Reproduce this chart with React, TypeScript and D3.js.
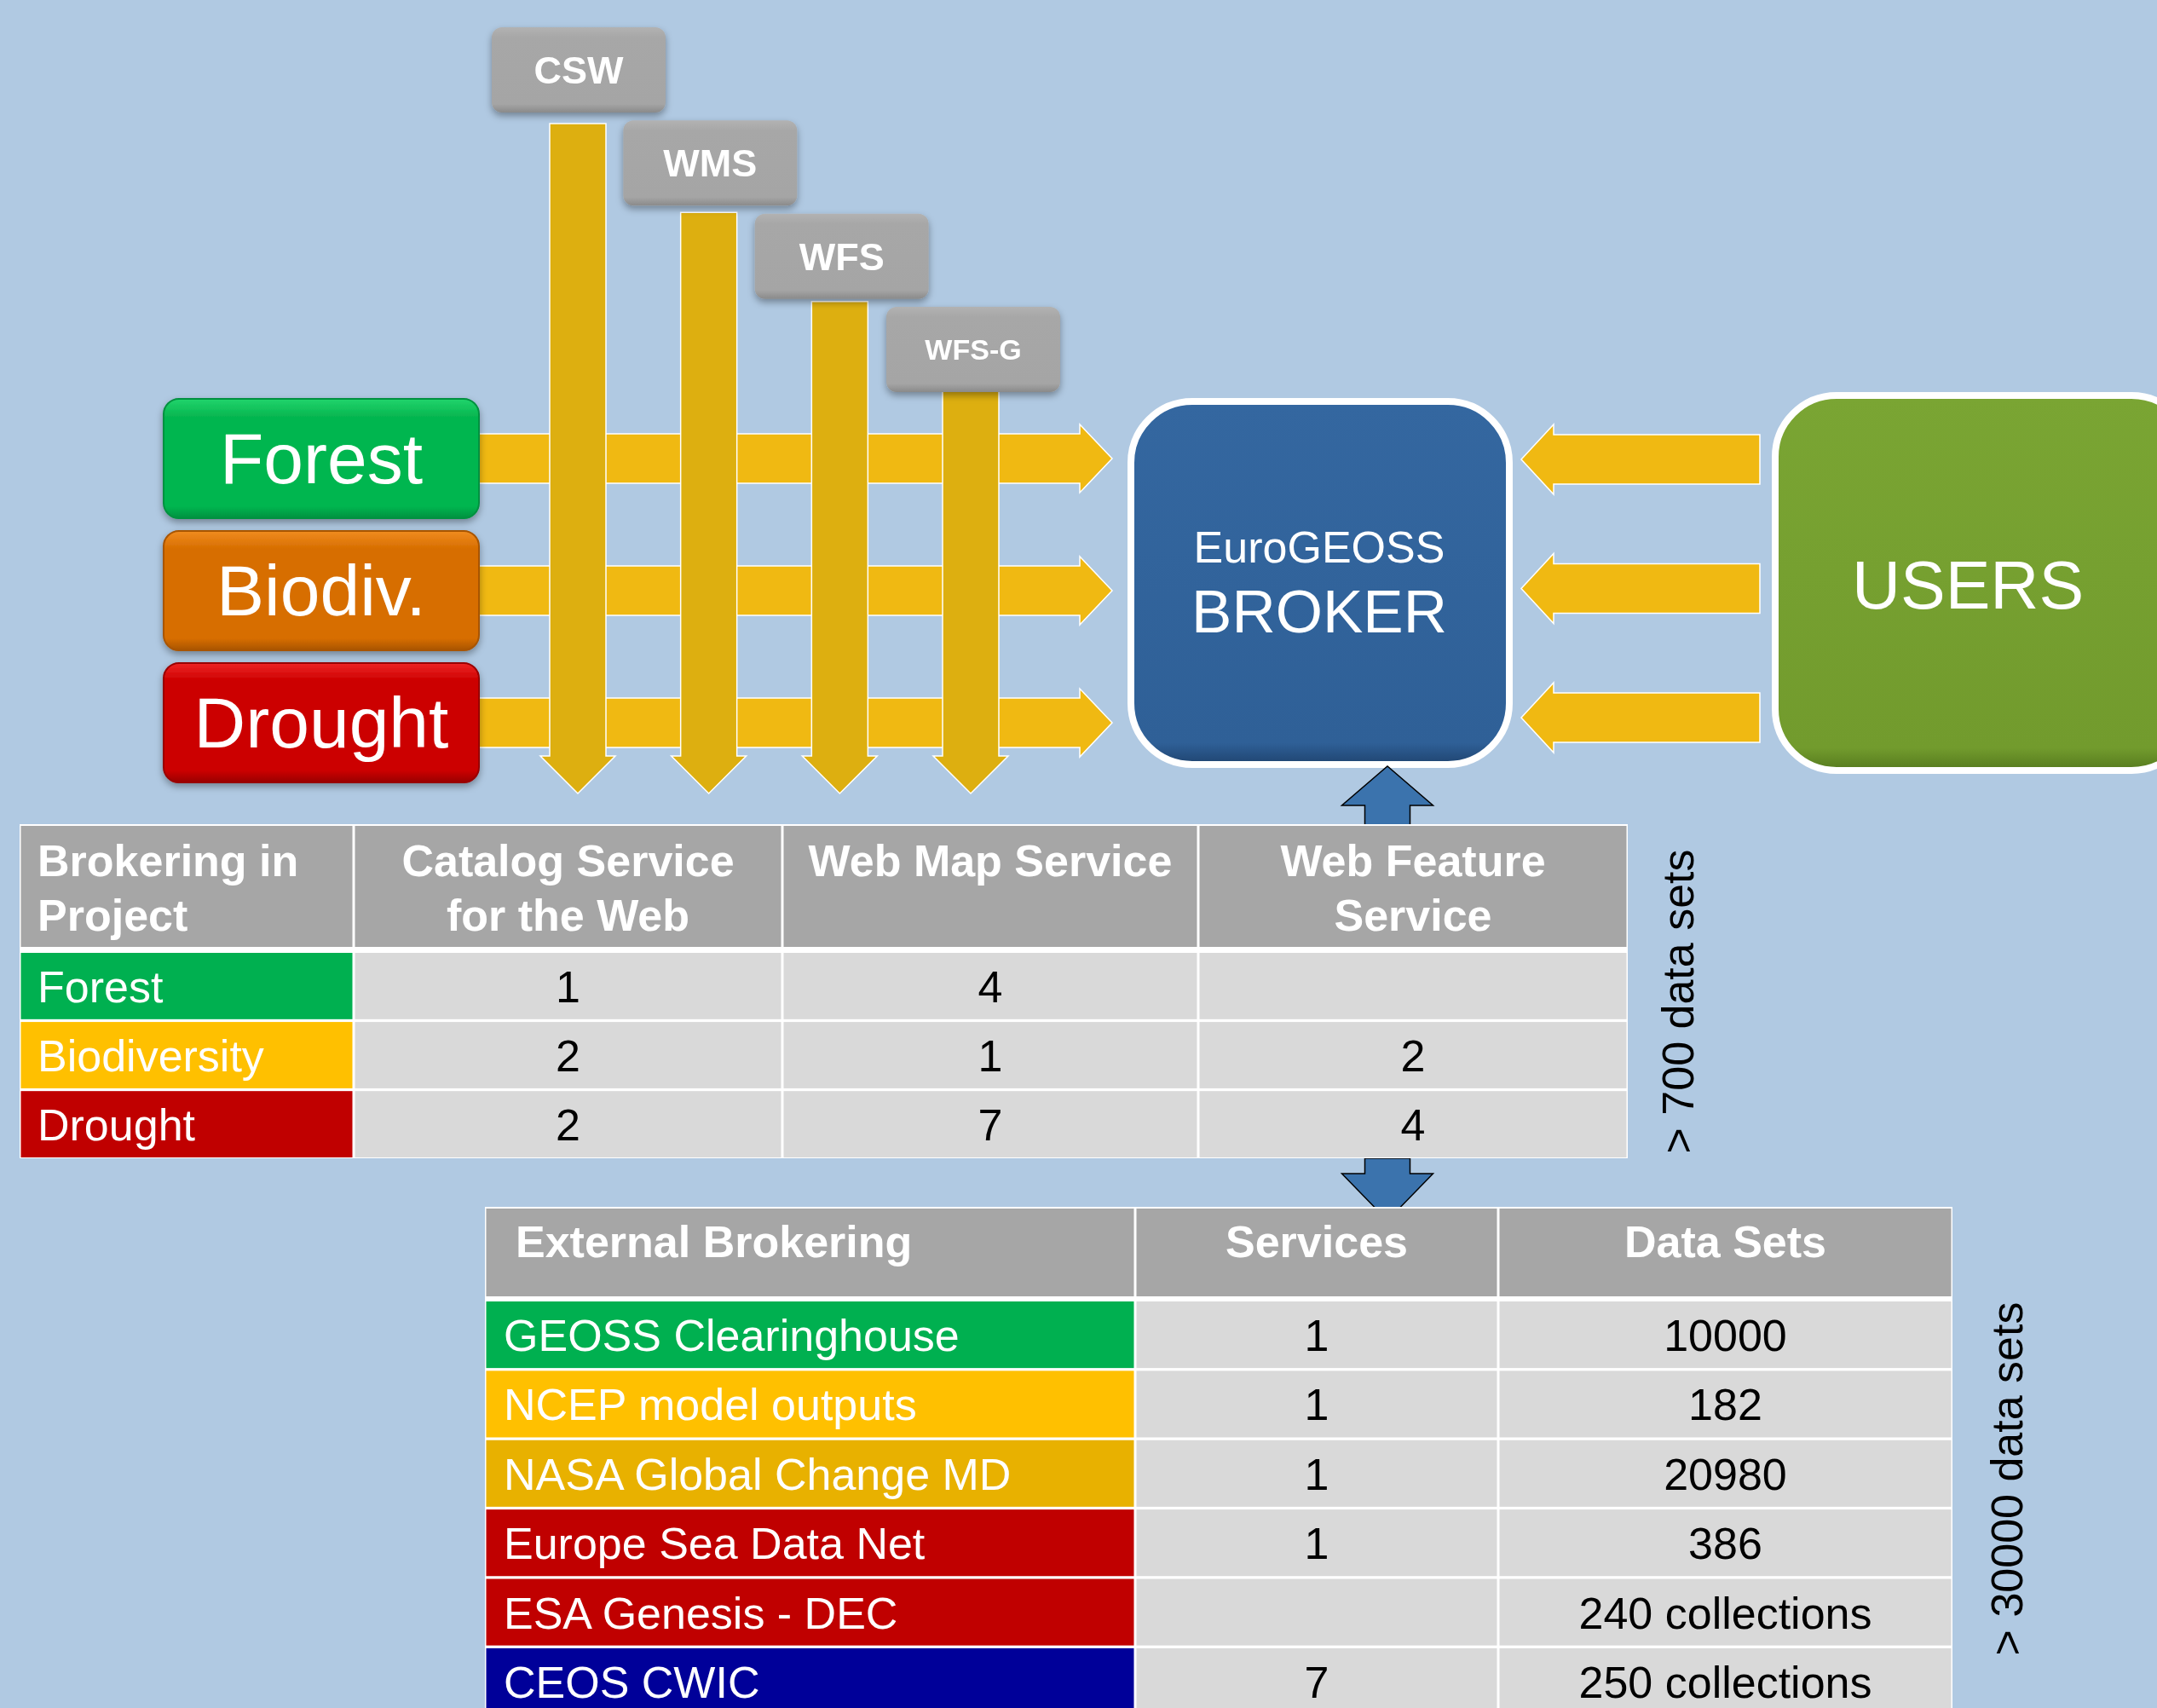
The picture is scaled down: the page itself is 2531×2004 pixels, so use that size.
import React from "react";
import * as d3 from "d3";

// top service boxes feeding the broker
const services = ["CSW", "WMS", "WFS", "WFS-G"];

// project boxes on the left
const projectBoxes = ["Forest", "Biodiv.", "Drought"];
const projectBoxColors = [
  ["#22d46c", "#06b650", "#05913f"],
  ["#f08c20", "#d76e00", "#a85400"],
  ["#ee2424", "#cc0000", "#990000"],
];

// table 1: brokering in project
const projects = ["Forest", "Biodiversity", "Drought"];
const projectColors = ["#00b050", "#ffc000", "#c00000"];
const table1Headers = [
  ["Brokering in", "Project"],
  ["Catalog Service", "for the Web"],
  ["Web Map Service"],
  ["Web Feature", "Service"],
];
const cswCounts = [1, 2, 2];
const wmsCounts = [4, 1, 7];
const wfsCounts: (number | null)[] = [null, 2, 4];
const table1Note = "> 700 data sets";

// table 2: external brokering
const externals = [
  "GEOSS Clearinghouse",
  "NCEP model outputs",
  "NASA Global Change MD",
  "Europe Sea Data Net",
  "ESA Genesis - DEC",
  "CEOS CWIC",
];
const externalColors = ["#00b050", "#ffc000", "#e8b100", "#c00000", "#c00000", "#000099"];
const table2Headers = ["External Brokering", "Services", "Data Sets"];
const externalServices: (number | null)[] = [1, 1, 1, 1, null, 7];
const externalDataSets = ["10000", "182", "20980", "386", "240 collections", "250 collections"];
const table2Note = "> 30000 data sets";

const W = 2531;
const H = 2004;
const FONT = "'Liberation Sans', Arial, sans-serif";

// right-pointing arrow: shaft from x0 to headX, tip at tipX
const hArrow = (x0: number, tipX: number, cy: number, shaft: number, head: number, headLen: number) => {
  const hx = tipX - headLen;
  return `M${x0},${cy - shaft / 2}H${hx}V${cy - head / 2}L${tipX},${cy}L${hx},${cy + head / 2}V${cy + shaft / 2}H${x0}Z`;
};
// left-pointing arrow
const lArrow = (x0: number, tipX: number, cy: number, shaft: number, head: number, headLen: number) => {
  const hx = tipX + headLen;
  return `M${x0},${cy - shaft / 2}H${hx}V${cy - head / 2}L${tipX},${cy}L${hx},${cy + head / 2}V${cy + shaft / 2}H${x0}Z`;
};
// vertical arrow from y0 to tipY (down if tipY > y0)
const vArrow = (cx: number, y0: number, tipY: number, shaft: number, head: number, headLen: number) => {
  const dir = tipY > y0 ? 1 : -1;
  const hy = tipY - dir * headLen;
  return `M${cx - shaft / 2},${y0}V${hy}H${cx - head / 2}L${cx},${tipY}L${cx + head / 2},${hy}H${cx + shaft / 2}V${y0}Z`;
};

export default function App() {
  // top service boxes
  const sx = d3.scalePoint<string>().domain(services).range([679, 1142]);
  const sy = d3.scalePoint<string>().domain(services).range([32, 360]);
  const shaftTop = d3.scalePoint<string>().domain(services).range([145, 458]);
  const shaftX = d3.scalePoint<string>().domain(services).range([678, 1139]);
  const boxW = 204;
  const boxH = 100;

  // left project boxes and horizontal arrows
  const py = d3.scaleBand<string>().domain(projectBoxes).range([468, 918]).paddingInner(0.097);
  const uy = d3.scalePoint<string>().domain(projectBoxes).range([539, 842]);

  // table 1 geometry
  const t1Cols = [23, 415, 918, 1406, 1910];
  const t1HeadTop = 969;
  const t1HeadBot = 1111;
  const t1y = d3.scaleBand<string>().domain(projects).range([1118, 1358]).paddingInner(0.04);
  const t1Values = [cswCounts, wmsCounts, wfsCounts];

  // table 2 geometry
  const t2Cols = [569, 1332, 1758, 2291];
  const t2HeadTop = 1418;
  const t2HeadBot = 1521;
  const t2y = d3.scaleBand<string>().domain(externals).range([1527, 2012]).paddingInner(0.04);

  const cell = (x0: number, x1: number, y0: number, y1: number, fill: string, key: string) => (
    <rect key={key} x={x0 + 1.5} y={y0} width={x1 - x0 - 3} height={y1 - y0} fill={fill} />
  );

  return (
    <div style={{ position: "absolute", left: 0, top: 0 }}>
      <svg width={W} height={H} viewBox={`0 0 ${W} ${H}`} style={{ display: "block" }}>
        <defs>
          <filter id="shadow" x="-20%" y="-20%" width="140%" height="150%">
            <feDropShadow dx="0" dy="4" stdDeviation="4" floodColor="#000" floodOpacity="0.35" />
          </filter>
          <linearGradient id="grayBox" x1="0" y1="0" x2="0" y2="1">
            <stop offset="0" stopColor="#b2b2b2" />
            <stop offset="0.12" stopColor="#a7a7a7" />
            <stop offset="0.9" stopColor="#a5a5a5" />
            <stop offset="1" stopColor="#8a8a8a" />
          </linearGradient>
          {projectBoxColors.map((c, i) => (
            <linearGradient key={i} id={`pb${i}`} x1="0" y1="0" x2="0" y2="1">
              <stop offset="0" stopColor={c[0]} />
              <stop offset="0.15" stopColor={c[1]} />
              <stop offset="0.9" stopColor={c[1]} />
              <stop offset="1" stopColor={c[2]} />
            </linearGradient>
          ))}
          <linearGradient id="broker" x1="0" y1="0" x2="0" y2="1">
            <stop offset="0" stopColor="#3467a0" />
            <stop offset="0.94" stopColor="#2f6097" />
            <stop offset="1" stopColor="#1f4470" />
          </linearGradient>
          <linearGradient id="users" x1="0" y1="0" x2="0" y2="1">
            <stop offset="0" stopColor="#7aa533" />
            <stop offset="0.94" stopColor="#729b2d" />
            <stop offset="1" stopColor="#557a1e" />
          </linearGradient>
        </defs>

        <rect width={W} height={H} fill="#b0c9e2" />

        {/* horizontal arrows from projects to broker */}
        {projectBoxes.map((p) => {
          const cy = (py(p) as number) + py.bandwidth() / 2;
          return (
            <path key={p} d={hArrow(540, 1305, cy, 58, 80, 38)} fill="#f0b912" stroke="#fff" strokeWidth={1.5} />
          );
        })}

        {/* vertical arrows from services */}
        {services.map((s) => (
          <path
            key={s}
            d={vArrow(shaftX(s) as number, shaftTop(s) as number, 931, 66, 88, 44)}
            fill="#ddaf10"
            stroke="#fff"
            strokeWidth={1.5}
          />
        ))}

        {/* service boxes */}
        {services.map((s) => (
          <g key={s} filter="url(#shadow)">
            <rect
              x={(sx(s) as number) - boxW / 2}
              y={sy(s) as number}
              width={boxW}
              height={boxH}
              rx={12}
              fill="url(#grayBox)"
            />
            <text
              x={sx(s) as number}
              y={(sy(s) as number) + boxH / 2 + (s.length > 3 ? 12 : 16)}
              textAnchor="middle"
              fill="#fff"
              fontFamily={FONT}
              fontWeight="bold"
              fontSize={s.length > 3 ? 34 : 45}
            >
              {s}
            </text>
          </g>
        ))}

        {/* project boxes */}
        {projectBoxes.map((p, i) => (
          <g key={p} filter="url(#shadow)">
            <rect
              x={192}
              y={py(p) as number}
              width={370}
              height={py.bandwidth()}
              rx={18}
              fill={`url(#pb${i})`}
              stroke={projectBoxColors[i][2]}
              strokeWidth={2}
            />
            <text
              x={377}
              y={(py(p) as number) + py.bandwidth() / 2 + 29}
              textAnchor="middle"
              fill="#fff"
              fontFamily={FONT}
              fontSize={84}
            >
              {p}
            </text>
          </g>
        ))}

        {/* broker */}
        <rect x={1327} y={471} width={444} height={426} rx={72} fill="url(#broker)" stroke="#fff" strokeWidth={8} />
        <text x={1548} y={660} textAnchor="middle" fill="#fff" fontFamily={FONT} fontSize={52}>
          EuroGEOSS
        </text>
        <text x={1548} y={742} textAnchor="middle" fill="#fff" fontFamily={FONT} fontSize={71}>
          BROKER
        </text>

        {/* users */}
        <rect x={2083} y={464} width={490} height={440} rx={72} fill="url(#users)" stroke="#fff" strokeWidth={8} />
        <text x={2309} y={714} textAnchor="middle" fill="#fff" fontFamily={FONT} fontSize={79}>
          USERS
        </text>

        {/* arrows from users to broker */}
        {projectBoxes.map((p) => (
          <path
            key={p}
            d={lArrow(2065, 1785, uy(p) as number, 58, 82, 38)}
            fill="#f0b912"
            stroke="#fff"
            strokeWidth={1.5}
          />
        ))}

        {/* blue arrows between tables and broker */}
        <path d={vArrow(1628, 968, 899, 53, 107, 46)} fill="#3b73ad" stroke="#000" strokeWidth={1.5} />
        <path d={vArrow(1628, 1359, 1432, 53, 107, 55)} fill="#3b73ad" stroke="#000" strokeWidth={1.5} />

        {/* table 1 */}
        <g fontFamily={FONT}>
          <rect x={t1Cols[0]} y={t1HeadTop - 2} width={t1Cols[4] - t1Cols[0]} height={1359 - t1HeadTop + 2} fill="#fff" />
          {table1Headers.map((lines, c) => {
            const x0 = t1Cols[c];
            const x1 = t1Cols[c + 1];
            return (
              <g key={c}>
                {cell(x0, x1, t1HeadTop, t1HeadBot, "#a6a6a6", `h${c}`)}
                {lines.map((ln, k) => (
                  <text
                    key={k}
                    x={c === 0 ? x0 + 21 : (x0 + x1) / 2}
                    y={1028 + k * 64}
                    textAnchor={c === 0 ? "start" : "middle"}
                    fill="#fff"
                    fontWeight="bold"
                    fontSize={52}
                  >
                    {ln}
                  </text>
                ))}
              </g>
            );
          })}
          {projects.map((p, r) => {
            const y0 = t1y(p) as number;
            const y1 = y0 + t1y.bandwidth();
            const base = (y0 + y1) / 2 + 19;
            return (
              <g key={p}>
                {cell(t1Cols[0], t1Cols[1], y0, y1, projectColors[r], "l")}
                <text x={t1Cols[0] + 21} y={base} fill="#fff" fontSize={52}>
                  {p}
                </text>
                {t1Values.map((vals, c) => (
                  <g key={c}>
                    {cell(t1Cols[c + 1], t1Cols[c + 2], y0, y1, "#d9d9d9", "v")}
                    {vals[r] != null && (
                      <text x={(t1Cols[c + 1] + t1Cols[c + 2]) / 2} y={base} textAnchor="middle" fill="#000" fontSize={52}>
                        {vals[r]}
                      </text>
                    )}
                  </g>
                ))}
              </g>
            );
          })}
          <text transform="translate(1987,1175) rotate(-90)" textAnchor="middle" fill="#000" fontSize={52}>
            {table1Note}
          </text>
        </g>

        {/* table 2 */}
        <g fontFamily={FONT}>
          <rect x={t2Cols[0]} y={t2HeadTop - 2} width={t2Cols[3] - t2Cols[0]} height={H - t2HeadTop + 2} fill="#fff" />
          {table2Headers.map((h, c) => {
            const x0 = t2Cols[c];
            const x1 = t2Cols[c + 1];
            return (
              <g key={c}>
                {cell(x0, x1, t2HeadTop, t2HeadBot, "#a6a6a6", `h${c}`)}
                <text
                  x={c === 0 ? x0 + 36 : (x0 + x1) / 2}
                  y={1475}
                  textAnchor={c === 0 ? "start" : "middle"}
                  fill="#fff"
                  fontWeight="bold"
                  fontSize={52}
                >
                  {h}
                </text>
              </g>
            );
          })}
          {externals.map((e, r) => {
            const y0 = t2y(e) as number;
            const y1 = y0 + t2y.bandwidth();
            const base = (y0 + y1) / 2 + 19;
            return (
              <g key={e}>
                {cell(t2Cols[0], t2Cols[1], y0, y1, externalColors[r], "l")}
                <text x={t2Cols[0] + 22} y={base} fill="#fff" fontSize={52}>
                  {e}
                </text>
                {cell(t2Cols[1], t2Cols[2], y0, y1, "#d9d9d9", "s")}
                {externalServices[r] != null && (
                  <text x={(t2Cols[1] + t2Cols[2]) / 2} y={base} textAnchor="middle" fill="#000" fontSize={52}>
                    {externalServices[r]}
                  </text>
                )}
                {cell(t2Cols[2], t2Cols[3], y0, y1, "#d9d9d9", "d")}
                <text x={(t2Cols[2] + t2Cols[3]) / 2} y={base} textAnchor="middle" fill="#000" fontSize={52}>
                  {externalDataSets[r]}
                </text>
              </g>
            );
          })}
          <text transform="translate(2373,1735) rotate(-90)" textAnchor="middle" fill="#000" fontSize={52}>
            {table2Note}
          </text>
        </g>
      </svg>
    </div>
  );
}
